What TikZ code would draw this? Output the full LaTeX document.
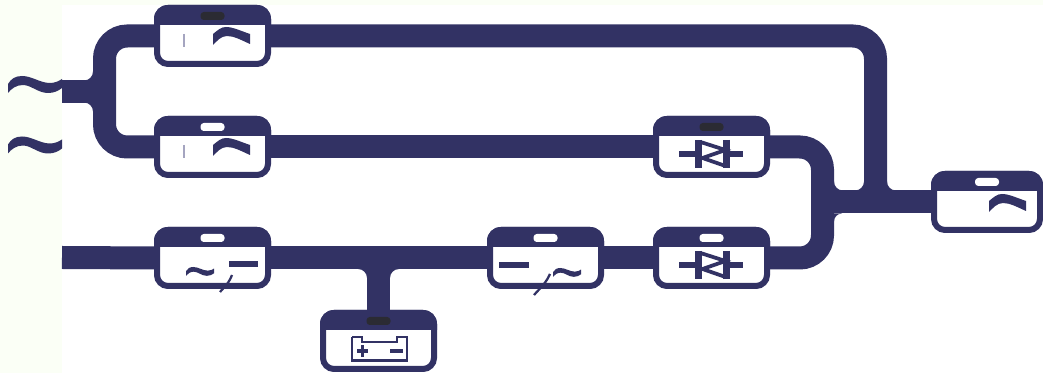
\documentclass[tikz,border=0pt]{standalone}
\definecolor{navy}{HTML}{323264}
\definecolor{pale}{HTML}{FBFFF6}
\definecolor{ledon}{HTML}{2B2B33}
\definecolor{tickgrey}{HTML}{A5A5C0}
\pgfdeclarelayer{wires}
\pgfsetlayers{wires,main}
\tikzset{
  wire/.style={draw=navy,line width=17.25pt,rounded corners=17pt},
  devnode/.style={draw=navy,fill=white,line width=4.5pt,rounded corners=8.25pt,inner sep=0pt,outer sep=0pt,minimum height=42pt},
  glyphline/.style={draw=navy,line width=4pt},
  thinglyph/.style={draw=navy,line width=2.8pt},
  ledlamp/.style={rounded corners=2.5pt}
}
\newcommand{\devbox}[5]{% name, cx, cy, width px, led colour
  \pgfmathsetmacro{\hw}{#4/2}
  \node[devnode,minimum width={(#4-6)*0.75pt}] (#1) at (#2,#3) {};
  \begin{scope}[shift={(#2,#3)}]
    \fill[navy] (-\hw,-11) -- (-\hw,-17) .. controls (-\hw,-25) and (-\hw+6,-31) .. (-\hw+14,-31)
      -- (\hw-14,-31) .. controls (\hw-6,-31) and (\hw,-25) .. (\hw,-17) -- (\hw,-11) -- cycle;
    \fill[#5,ledlamp] (-12,-24) rectangle (12,-16);
  \end{scope}
}
\newcommand{\arcglyph}[2]{%
  \fill[navy,shift={(#1,#2)}] (0,-2) .. controls (5,-6) and (8,-9) .. (13,-9)
    .. controls (20,-9) and (28,-5) .. (37,-2) -- (37,8)
    .. controls (28,4) and (21,0) .. (14,0) .. controls (8,0) and (4,5) .. (0,9) -- cycle;
}
\newcommand{\tildeglyph}[3]{% x, y, scale
  \fill[navy,shift={(#1,#2)},scale=#3] (0,8) .. controls (3,3) and (7,0) .. (14,0)
    .. controls (24,0) and (32,7) .. (42,7) .. controls (47,7) and (51,5) .. (54,3)
    -- (54,12) .. controls (50,15) and (46,17) .. (40,17)
    .. controls (30,17) and (23,9) .. (15,9) .. controls (8,9) and (3,13) .. (0,17) -- cycle;
}
\newcommand{\diodeglyph}[2]{%
  \begin{scope}[shift={(#1,#2)}]
    \draw[glyphline] (-32.5,7) -- (-13,7);
    \draw[glyphline] (15,7) -- (31.5,7);
    \draw[glyphline,line width=5pt] (-13,-7) -- (-13,21);
    \draw[glyphline,line width=5pt] (15,-7) -- (15,21);
    \draw[thinglyph,line join=miter] (-11,-5) -- (14,3) -- (-9,11) -- (14,19);
  \end{scope}
}
\newcommand{\jfillet}[4]{% corner x, corner y, signed x reach, signed y reach
  \fill[navy] ({#1+(#3)},#2) .. controls ({#1+0.45*(#3)},#2) and (#1,{#2+0.45*(#4)}) .. (#1,{#2+(#4)}) -- (#1,#2) -- cycle;
}
\begin{document}
\begin{tikzpicture}[x=0.75pt,y=-0.75pt]
\useasboundingbox (0,0) rectangle (1043,373);
\begin{pgfonlayer}{wires}
  \fill[pale] (0,0) rectangle (1043,373);
  \fill[white] (62,5) rectangle (1043,373);
\end{pgfonlayer}

\devbox{acone}{212.5}{36}{117}{ledon}
\devbox{actwo}{212.5}{147}{117}{white}
\devbox{thyup}{711.5}{147}{117}{ledon}
\devbox{thylow}{711.5}{258}{117}{white}
\devbox{rect}{212.5}{258}{117}{white}
\devbox{inv}{545.5}{258}{117}{white}
\devbox{batt}{378.5}{341}{117}{ledon}
\devbox{load}{987}{202}{112}{white}

\coordinate (srcup) at (62,91.5);
\coordinate (srclow) at (62,257.5);
\coordinate (busL) at (104.5,91.5);
\coordinate (busM) at (822.5,202);
\coordinate (busR) at (875.5,202);

\begin{pgfonlayer}{wires}
  \draw[wire] (srcup) -- (busL);
  \draw[wire] (acone.west) -| (busL) |- (actwo.west);
  \draw[wire] (acone.east) -| (busR);
  \draw[wire] (actwo.east) -- (thyup.west);
  \draw[wire] (thyup.east) -| (busM) |- (thylow.east);
  \draw[wire] (busM) -- (load.west);
  \draw[wire] (srclow) -- (rect.west);
  \draw[wire] (rect.east) -- (inv.west);
  \draw[wire] (inv.east) -- (thylow.west);
  \draw[wire] (batt.north) -- (batt.north |- rect.east);
  % junction fillets
  \jfillet{93}{80.5}{-9}{-9}
  \jfillet{834}{190.5}{9}{-9}
  \jfillet{864}{190.5}{-9}{-9}
  \jfillet{887}{190.5}{9}{-9}
  \jfillet{93}{102.5}{-9}{9}
  \jfillet{834}{213.5}{8}{8}
  \jfillet{367}{269}{-9}{9}
  \jfillet{390}{269}{9}{9}
\end{pgfonlayer}

% mains symbols
\tildeglyph{8}{76}{1}
\tildeglyph{8}{136.5}{1}

% static switch glyphs
\arcglyph{213}{36}
\arcglyph{213}{147}
\arcglyph{989}{203}
\draw[tickgrey,line width=0.8pt] (184,34) -- (184,47);
\draw[tickgrey,line width=0.8pt] (184,145) -- (184,158);

% thyristor glyphs
\diodeglyph{711.5}{147}
\diodeglyph{711.5}{258}

% rectifier
\tildeglyph{186}{267}{0.52}
\fill[navy] (229,261.5) rectangle (258,267.5);
\draw[navy,line width=1.7pt] (232,275) .. controls (229,282) .. (220,292);

% inverter
\fill[navy] (499,262) rectangle (529,268);
\tildeglyph{553}{268}{0.52}
\draw[navy,line width=1.7pt] (550,274) .. controls (546,282) .. (534,295);

% battery
\draw[navy,line width=1.8pt] (352,337) -- (362,337) -- (362,342) -- (397,342) -- (397,337) -- (407,337) -- (407,360);
\draw[navy,line width=1.8pt] (352,337) -- (352,360);
\draw[navy,line width=2.4pt] (351,360.5) -- (408,360.5);
\draw[navy,line width=2.4pt] (357,351) -- (368,351) (362.5,345.5) -- (362.5,357);
\draw[navy,line width=2.4pt] (390,351) -- (403,351);
\end{tikzpicture}
\end{document}
